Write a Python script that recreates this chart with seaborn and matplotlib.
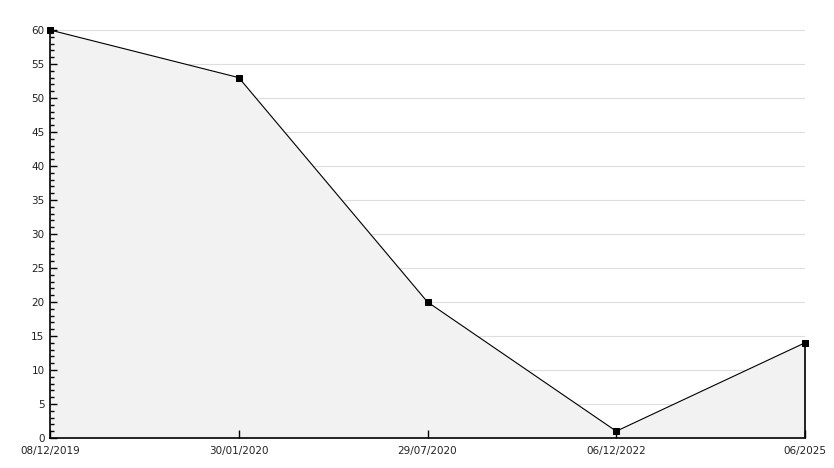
import pandas as pd
import matplotlib.pyplot as plt
import seaborn as sns
from matplotlib.ticker import MultipleLocator

dates = ["08/12/2019", "30/01/2020", "29/07/2020", "06/12/2022", "06/2025"]
counts = [60, 53, 20, 1, 14]

df = pd.DataFrame({"pos": range(len(dates)), "count": counts})

sns.set_style("white")
plt.rcParams["font.family"] = ["DejaVu Sans"]

fig = plt.figure(figsize=(8.34, 4.68), dpi=100)
ax = fig.add_axes([50 / 834, 30 / 468, 755 / 834, 408 / 468])
ax.set_axisbelow(False)  # ticks must sit on top of the shaded area

ax.set_xlim(0, len(dates) - 1)
ax.set_ylim(0, 60)
ax.yaxis.set_major_locator(MultipleLocator(5))
ax.yaxis.set_minor_locator(MultipleLocator(1))

# light grid behind the shaded area
ax.hlines(ax.get_yticks()[1:], 0, len(dates) - 1, color="#dddddd", lw=0.8, zorder=0)

# shaded area under the line
ax.fill_between(df["pos"], df["count"], 0, color="#f2f2f2", zorder=1)
ax.vlines(df["pos"].iloc[-1], 0, df["count"].iloc[-1], color="black", lw=1.2,
          zorder=2, clip_on=False)

sns.lineplot(data=df, x="pos", y="count", ax=ax, color="black", lw=0.8,
             marker="s", markersize=4.5, markeredgecolor="black", zorder=3, clip_on=False)

ax.set_xticks(df["pos"])
ax.set_xticklabels(dates)

ax.set_xlabel("")
ax.set_ylabel("")
for s in ["top", "right"]:
    ax.spines[s].set_visible(False)
for s in ["left", "bottom"]:
    ax.spines[s].set_color("black")
    ax.spines[s].set_linewidth(1.2)

ax.tick_params(axis="y", which="major", direction="in", length=5, width=1, colors="black",
               labelcolor="#222222", labelsize=7.5, pad=4, left=True)
ax.tick_params(axis="y", which="minor", direction="in", length=3, width=1, colors="black", left=True)
ax.tick_params(axis="x", which="major", direction="in", length=6, width=1, colors="black",
               labelcolor="#222222", labelsize=7.5, pad=6, bottom=True)

fig.savefig("out.png", dpi=100)
